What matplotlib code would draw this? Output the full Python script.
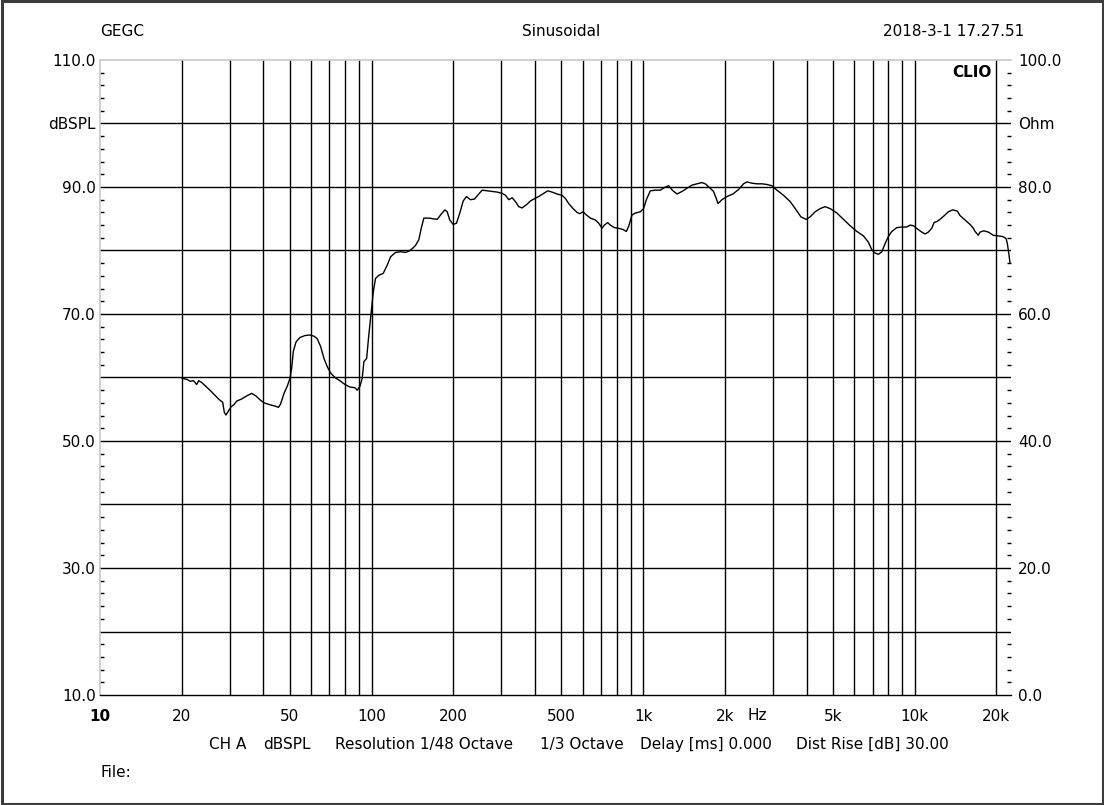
import matplotlib
matplotlib.use('Agg')
import matplotlib.pyplot as plt
from matplotlib.patches import Rectangle
from matplotlib.ticker import MultipleLocator, NullFormatter
import matplotlib.transforms as mtransforms

plt.rcParams['font.family'] = ['DejaVu Sans']

# frequency response
freq_hz = [20.0, 20.9, 21.5, 22.1, 22.7, 23.1, 23.7, 24.4, 25.4, 26.5, 27.5, 28.3, 28.7, 29.1,
           29.7, 30.4, 31.1, 31.9, 33.2, 34.7, 36.2, 37.5, 38.8, 40.2, 42.3, 44.1, 45.4, 46.2,
           47.6, 49.0, 50.1, 50.8, 51.5, 52.7, 54.5, 56.8, 59.3, 61.4, 63.1, 64.9, 66.8, 68.7,
           70.7, 73.3, 76.4, 79.8, 83.2, 86.8, 88.6, 90.6, 92.4, 93.7, 95.9, 97.7, 99.7, 101.5,
           103.4, 106.4, 110.4, 114.2, 117.5, 122.6, 127.9, 133.4, 137.2, 141.2, 145.2, 149.3,
           152.4, 155.8, 162.5, 174.5, 179.5, 186.1, 189.9, 194.1, 199.8, 205.5, 211.3, 217.5,
           223.6, 231.3, 239.3, 248.2, 255.5, 266.5, 278.0, 290.1, 302.7, 311.2, 320.1, 329.4,
           338.7, 348.3, 358.5, 374.0, 384.6, 395.6, 412.6, 430.4, 445.2, 462.1, 482.1, 503.0,
           517.2, 531.9, 552.1, 571.2, 583.9, 601.0, 618.0, 639.3, 667.0, 686.0, 706.1, 719.9,
           740.4, 757.5, 783.6, 812.6, 843.5, 867.5, 884.5, 910.4, 936.2, 976.7, 1004, 1028,
           1063, 1109, 1157, 1197, 1241, 1288, 1333, 1390, 1451, 1513, 1579, 1647, 1694, 1767,
           1817, 1859, 1887, 1951, 2035, 2142, 2246, 2343, 2411, 2516, 2624, 2737, 2856, 2980,
           3109, 3288, 3480, 3660, 3810, 3985, 4123, 4300, 4486, 4680, 4883, 5170, 5467, 5784,
           6124, 6477, 6756, 6954, 7150, 7354, 7568, 7783, 8002, 8236, 8592, 8964, 9352, 9618,
           9890, 10232, 10619, 10921, 11230, 11558, 11787, 12120, 12474, 12937, 13305, 13809,
           14360, 14691, 15327, 15991, 16443, 16683, 17155, 17401, 18000, 18670, 19480, 20323,
           21094, 21695, 21935, 22250, 22440]
spl_db = [59.9, 59.7, 59.4, 59.5, 58.9, 59.5, 59.2, 58.7, 58.0, 57.2, 56.5, 56.1, 54.5, 54.1,
          54.7, 55.4, 55.7, 56.3, 56.6, 57.1, 57.5, 57.1, 56.5, 56.0, 55.7, 55.5, 55.3, 55.8,
          57.5, 58.7, 59.9, 61.5, 64.1, 65.6, 66.3, 66.6, 66.7, 66.5, 66.1, 64.9, 63.0, 61.7,
          60.7, 60.0, 59.5, 58.9, 58.5, 58.4, 58.0, 58.6, 59.9, 62.5, 63.0, 66.7, 70.4, 73.5,
          75.6, 76.1, 76.4, 77.7, 79.0, 79.7, 79.8, 79.7, 79.9, 80.3, 80.8, 81.7,
          83.5, 85.1, 85.1, 84.9, 85.6, 86.4, 86.1, 84.8, 84.1, 84.3, 85.9, 87.8,
          88.5, 88.0, 88.1, 88.9, 89.5, 89.4, 89.3, 89.2, 89.0, 88.7, 88.0, 88.3,
          87.7, 86.9, 86.7, 87.3, 87.8, 88.1, 88.5, 89.0, 89.4, 89.2, 88.9, 88.7,
          88.2, 87.4, 86.6, 86.0, 85.8, 86.1, 85.6, 85.1, 84.8, 84.3, 83.5, 84.0,
          84.4, 84.0, 83.6, 83.5, 83.3, 83.0, 83.8, 85.6, 85.9, 86.1, 86.6, 88.0,
          89.4, 89.5, 89.5, 89.9, 90.2, 89.4, 88.9, 89.3, 89.8, 90.3, 90.5, 90.7, 90.5, 89.8,
          89.3, 88.2, 87.4, 88.0, 88.5, 88.9, 89.6, 90.5, 90.8, 90.6, 90.5, 90.5, 90.4, 90.2,
          89.5, 88.7, 87.7, 86.4, 85.3, 84.9, 85.3, 86.1, 86.6, 86.9, 86.6, 85.9, 84.9, 83.9,
          83.0, 82.3, 81.3, 80.1, 79.6, 79.4, 79.8, 81.1, 82.2, 83.0, 83.6, 83.7, 83.7, 84.0,
          83.9, 83.4, 82.9, 82.6, 82.9, 83.5, 84.4, 84.6, 85.0, 85.6, 86.1, 86.4,
          86.2, 85.5, 84.8, 84.1, 83.5, 83.0, 82.4, 82.9, 83.1, 82.9, 82.4, 82.3,
          82.2, 81.9, 81.1, 79.3, 78.0]

x_ticks = [10, 20, 50, 100, 200, 500, 1000, 2000, 5000, 10000, 20000]
x_labels = ['10', '20', '50', '100', '200', '500', '1k', '2k', '5k', '10k', '20k']
x_grid = [20, 30, 40, 50, 60, 70, 80, 90, 100, 200, 300, 400, 500, 600, 700, 800, 900,
          1000, 2000, 3000, 4000, 5000, 6000, 7000, 8000, 9000, 10000, 20000]
left_ticks = [10, 20, 30, 40, 50, 60, 70, 80, 90, 100, 110]
left_labels = ['10.0', '', '30.0', '', '50.0', '', '70.0', '', '90.0', 'dBSPL', '110.0']
right_ticks = [0, 10, 20, 30, 40, 50, 60, 70, 80, 90, 100]
right_labels = ['0.0', '', '20.0', '', '40.0', '', '60.0', '', '80.0', 'Ohm', '100.0']
footer_parts = ['CH A', 'dBSPL', 'Resolution 1/48 Octave', '1/3 Octave',
                'Delay [ms] 0.000', 'Dist Rise [dB] 30.00']
footer_x = [209, 263, 335, 540, 640, 796]

W, H = 1104, 805
fig = plt.figure(figsize=(W / 100, H / 100), dpi=100)
fig.patch.set_facecolor('white')

ax = fig.add_axes([100 / W, 1 - 695 / H, 911 / W, 635 / H])
ax.set_xscale('log')
ax.set_xlim(10, 22630)
ax.set_ylim(10, 110)

for f in x_grid:
    ax.axvline(f, color='black', lw=1.0, zorder=1)
for v in range(20, 101, 10):
    ax.axhline(v, color='black', lw=1.0, zorder=1)

ax.plot(freq_hz, spl_db, color='black', lw=1.0, zorder=3)

for s in ['left', 'top']:
    ax.spines[s].set_color('#c8c8c8')
    ax.spines[s].set_linewidth(1.2)
ax.spines['bottom'].set_color('black')
ax.spines['bottom'].set_linewidth(1.0)
ax.spines['right'].set_visible(False)

ax.set_xticks(x_ticks)
ax.set_xticklabels(x_labels)
ax.xaxis.set_minor_formatter(NullFormatter())
ax.tick_params(axis='x', which='both', length=0, pad=10, labelsize=11)
ax.get_xticklabels()[0].set_fontweight('bold')

ax.set_yticks(left_ticks)
ax.set_yticklabels(left_labels)
ax.yaxis.set_minor_locator(MultipleLocator(2))
ax.tick_params(axis='y', which='major', length=0, pad=3, labelsize=11)
ax.tick_params(axis='y', which='minor', direction='in', length=3, width=1, color='black')

ax2 = ax.twinx()
ax2.set_ylim(0, 100)
for s in ax2.spines.values():
    s.set_visible(False)
ax2.set_yticks(right_ticks)
ax2.set_yticklabels(right_labels)
ax2.yaxis.set_minor_locator(MultipleLocator(2))
ax2.tick_params(axis='y', which='major', length=0, pad=5, labelsize=11)
ax2.tick_params(axis='y', which='minor', direction='in', length=3, width=1, color='black')

trans = mtransforms.blended_transform_factory(ax.transData, ax.transAxes)
ax.text(2630, -0.0326, 'Hz', transform=trans, ha='center', va='center', fontsize=11)
ax.text(992 / W, 1 - 72.5 / H, 'CLIO', transform=fig.transFigure, ha='right', va='center',
        fontsize=11, fontweight='bold')

fig.text(100 / W, 1 - 32 / H, 'GEGC', ha='left', va='center', fontsize=11)
fig.text(561 / W, 1 - 32 / H, 'Sinusoidal', ha='center', va='center', fontsize=11)
fig.text(1024 / W, 1 - 32 / H, '2018-3-1 17.27.51', ha='right', va='center', fontsize=11)
for part, px in zip(footer_parts, footer_x):
    fig.text(px / W, 1 - 744 / H, part, ha='left', va='center', fontsize=11)
fig.text(100 / W, 1 - 772 / H, 'File:', ha='left', va='center', fontsize=11)

fig.add_artist(Rectangle((1.5 / W, 1.5 / H), (W - 3) / W, (H - 3) / H,
                         transform=fig.transFigure, fill=False, edgecolor='#3c3c3c', lw=2.2))

fig.savefig('out.png', dpi=100)
